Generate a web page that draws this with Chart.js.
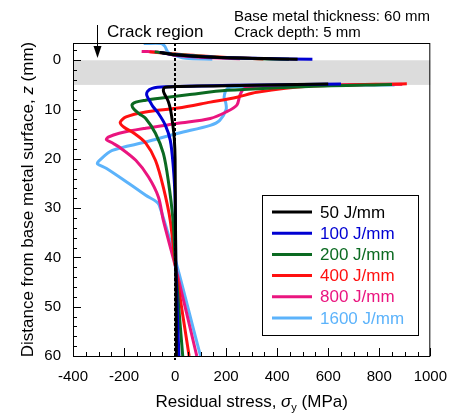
<!DOCTYPE html>
<html>
<head>
<meta charset="utf-8">
<title>Residual stress vs depth</title>
<script src="https://cdn.jsdelivr.net/npm/chart.js@4.4.1/dist/chart.umd.min.js"></script>
<style>
  html, body { margin: 0; padding: 0; background: #fff; }
  #stressChart { display: block; }
</style>
</head>
<body>
<canvas id="stressChart" width="459" height="414"></canvas>
<script>
/**
 * Residual stress profiles through the base metal, one curve per heat input.
 * Values; null splits each curve at the crack.
 */
const heatInputs = ['50 J/mm', '100 J/mm', '200 J/mm', '400 J/mm', '800 J/mm', '1600 J/mm'];

// stress (MPa) / depth z (mm)
const stress50 = [-60, 0, 150, 350, 480, null, 600, 350, 150, 0, -40, -46, -40, -27, -18, -9, -3, 0, 1, 3, 5];
const depth50  = [-1.6, -1.1, -0.6, -0.35, -0.2, null, 4.8, 5.0, 5.2, 5.35, 5.5, 6.2, 7.0, 8.3, 10, 13, 16, 20, 30, 42, 60];

const stress100 = [-60, 0, 150, 350, 538, null, 650, 350, 100, -40, -90, -108, -111, -100, -88, -65, -38, -19, -8, 0, 3, 15];
const depth100  = [-1.6, -1.1, -0.6, -0.35, -0.2, null, 4.8, 5.0, 5.2, 5.4, 5.7, 6.3, 7.1, 8.2, 9.3, 10.8, 13.2, 16.2, 21, 28, 42, 60];

const stress200 = [-80, 0, 150, 300, 446, null, 850, 523, 204, 50, -60, -115, -154, -169, -160, -140, -115, -77, -46, -27, -8, 2, 30];
const depth200  = [-1.7, -1.2, -0.65, -0.35, -0.2, null, 4.9, 5.3, 6.1, 7.0, 7.7, 8.1, 8.5, 9.1, 10, 10.9, 11.8, 14.8, 18.9, 24.3, 32.5, 42, 60];

const stress400 = [-100, 0, 150, 346, null, 908, 523, 320, 242, 138, 12, -115, -192, -215, -200, -161, -115, -77, -46, -19, 2, 55];
const depth400  = [-1.7, -1.25, -0.7, -0.25, null, 4.75, 5.3, 6.5, 7.5, 8.5, 9.7, 10.5, 11.5, 12.6, 13.6, 14.8, 16.8, 20.3, 25.8, 32.5, 42, 60];

const stress800 = [-131, -60, 0, 100, 254, null, 890, 500, 320, 270, 254, 242, 200, 138, 12, -115, -219, -262, -269, -245, -219, -154, -104, -65, -46, 2, 85];
const depth800  = [-1.8, -1.6, -1.0, -0.6, -0.3, null, 4.85, 5.1, 5.3, 5.8, 7.1, 9.1, 10.5, 11.8, 12.8, 13.8, 14.8, 15.6, 16.1, 16.8, 17.6, 20.3, 23.7, 27.8, 32.5, 42, 60];

const stress1600 = [-123, -54, -40, -27, 10, 42, 146, null, 860, 400, 230, 204, 192, 198, 200, 175, 138, 12, -115, -246, -300, -304, -270, -181, -115, -62, 100];
const depth1600  = [-3.4, -3.4, -2.8, -1.6, -0.8, -0.4, -0.2, null, 5.0, 5.1, 5.4, 5.8, 7.5, 8.5, 10, 12.2, 13.2, 14.8, 16.6, 18.3, 20.5, 21, 21.9, 25, 27.4, 29.4, 60];

const stressSeries = [stress50, stress100, stress200, stress400, stress800, stress1600];
const depthSeries  = [depth50, depth100, depth200, depth400, depth800, depth1600];

const xTickValues = [-400, -200, 0, 200, 400, 600, 800, 1000];
const yTickValues = [0, 10, 20, 30, 40, 50, 60];
const crackBand = [0, 5];

const lineColors = ['#000000', '#0000d2', '#0b6a21', '#ff1010', '#ea157f', '#5cb3fb'];
const FONT = '"Liberation Sans", Arial, Helvetica, sans-serif';

Chart.defaults.font.family = FONT;
Chart.defaults.color = '#000';

function toPoints(xs, ys) {
    return xs.map((v, i) => (v === null ? { x: NaN, y: NaN } : { x: v, y: ys[i] }));
}

/**
 * Grey crack band, dotted zero line, frame, inward ticks, legend and notes
 */
const figureDecor = {
    id: 'figureDecor',
    beforeDatasetsDraw(chart) {
        const { ctx, chartArea: a, scales: { y } } = chart;
        const y0 = y.getPixelForValue(crackBand[0]);
        const y1 = y.getPixelForValue(crackBand[1]);
        ctx.save();
        ctx.fillStyle = '#dcdcdc';
        ctx.fillRect(a.left, y0, a.right - a.left, y1 - y0);
        ctx.restore();
    },
    afterDatasetsDraw(chart) {
        const { ctx, chartArea: a, scales: { x, y } } = chart;
        ctx.save();

        // dotted line at zero stress
        const x0 = Math.round(x.getPixelForValue(0));
        ctx.strokeStyle = '#000';
        ctx.lineWidth = 2;
        ctx.setLineDash([3, 2]);
        ctx.beginPath();
        ctx.moveTo(x0, a.top);
        ctx.lineTo(x0, a.bottom + 4);
        ctx.stroke();
        ctx.setLineDash([]);

        // frame
        ctx.lineWidth = 1;
        ctx.strokeRect(a.left + 0.5, a.top + 0.5, a.right - a.left - 1, a.bottom - a.top);

        // inward ticks
        ctx.beginPath();
        for (let v = -400; v <= 1000; v += 50) {
            const px = Math.round(x.getPixelForValue(v)) + 0.5;
            const len = v % 200 === 0 ? 8 : 4;
            ctx.moveTo(px, a.bottom);
            ctx.lineTo(px, a.bottom - len);
        }
        for (let v = -2; v <= 60; v += 2) {
            const py = Math.round(y.getPixelForValue(v)) + 0.5;
            const len = v % 10 === 0 ? 8 : 4;
            ctx.moveTo(a.left, py);
            ctx.lineTo(a.left + len, py);
        }
        ctx.stroke();

        // legend
        const lg = { left: 262, top: 195, width: 156, height: 140 };
        ctx.fillStyle = '#fff';
        ctx.fillRect(lg.left, lg.top, lg.width, lg.height);
        ctx.strokeStyle = '#000';
        ctx.strokeRect(lg.left + 0.5, lg.top + 0.5, lg.width, lg.height);
        ctx.font = '17px ' + FONT;
        ctx.textBaseline = 'middle';
        ctx.textAlign = 'left';
        heatInputs.forEach((label, i) => {
            const ry = 212 + i * 21.2;
            ctx.strokeStyle = lineColors[i];
            ctx.lineWidth = 3;
            ctx.beginPath();
            ctx.moveTo(272, ry);
            ctx.lineTo(312, ry);
            ctx.stroke();
            ctx.fillStyle = lineColors[i];
            ctx.fillText(label, 320, ry + 1);
        });

        // notes above the plot
        ctx.fillStyle = '#000';
        ctx.strokeStyle = '#000';
        ctx.textBaseline = 'alphabetic';
        ctx.font = '17px ' + FONT;
        ctx.fillText('Crack region', 107, 37);
        ctx.font = '15px ' + FONT;
        ctx.fillText('Base metal thickness: 60 mm', 234, 21);
        ctx.fillText('Crack depth: 5 mm', 234, 36.5);

        // arrow pointing at the crack
        ctx.lineWidth = 1;
        ctx.beginPath();
        ctx.moveTo(97.5, 25);
        ctx.lineTo(97.5, 50);
        ctx.stroke();
        ctx.beginPath();
        ctx.moveTo(93.5, 46);
        ctx.lineTo(101.5, 46);
        ctx.lineTo(97.5, 58);
        ctx.closePath();
        ctx.fill();

        // x title with sigma_y
        const cx = (a.left + a.right) / 2;
        const parts = [
            { t: 'Residual stress, ', f: '17px ' + FONT, dy: 0 },
            { t: 'σ', f: 'italic 17px ' + FONT, dy: 0 },
            { t: 'y', f: '11px ' + FONT, dy: 4 },
            { t: ' (MPa)', f: '17px ' + FONT, dy: 0 }
        ];
        let total = 0;
        parts.forEach(p => { ctx.font = p.f; p.w = ctx.measureText(p.t).width; total += p.w; });
        let tx = cx - total / 2;
        parts.forEach(p => { ctx.font = p.f; ctx.fillText(p.t, tx, 407 + p.dy); tx += p.w; });

        // y title, rotated
        ctx.translate(33, (a.top + a.bottom) / 2);
        ctx.rotate(-Math.PI / 2);
        const yparts = [
            { t: 'Distance from base metal surface, ', f: '17px ' + FONT },
            { t: 'z', f: 'italic 17px ' + FONT },
            { t: ' (mm)', f: '17px ' + FONT }
        ];
        total = 0;
        yparts.forEach(p => { ctx.font = p.f; p.w = ctx.measureText(p.t).width; total += p.w; });
        tx = -total / 2;
        yparts.forEach(p => { ctx.font = p.f; ctx.fillText(p.t, tx, 0); tx += p.w; });

        ctx.restore();
    }
};

function buildChart() {
    const ctx = document.getElementById('stressChart').getContext('2d');
    new Chart(ctx, {
        type: 'scatter',
        data: {
            datasets: heatInputs.map((label, i) => ({
                label: label,
                data: toPoints(stressSeries[i], depthSeries[i]),
                showLine: true,
                borderColor: lineColors[i],
                backgroundColor: lineColors[i],
                borderWidth: 3,
                pointRadius: 0,
                tension: 0.3,
                spanGaps: false
            }))
        },
        options: {
            responsive: false,
            animation: false,
            devicePixelRatio: 1,
            layout: { padding: { left: 0, top: 43, right: 22, bottom: 0 } },
            plugins: { legend: { display: false }, tooltip: { enabled: false } },
            scales: {
                x: {
                    type: 'linear',
                    min: -400,
                    max: 1000,
                    grid: { display: false, drawTicks: false },
                    border: { display: false },
                    afterBuildTicks: s => { s.ticks = xTickValues.map(v => ({ value: v })); },
                    afterFit: s => { s.height = 58; },
                    ticks: { font: { size: 15 }, padding: 12, maxRotation: 0, autoSkip: false, callback: v => String(v) }
                },
                y: {
                    type: 'linear',
                    reverse: true,
                    min: -3.5,
                    max: 60,
                    grid: { display: false, drawTicks: false },
                    border: { display: false },
                    afterBuildTicks: s => { s.ticks = yTickValues.map(v => ({ value: v })); },
                    afterFit: s => { s.width = 73; },
                    ticks: { font: { size: 15 }, padding: 12, autoSkip: false, callback: v => String(v) }
                }
            }
        },
        plugins: [figureDecor]
    });
}

document.addEventListener('DOMContentLoaded', buildChart);
</script>
</body>
</html>
